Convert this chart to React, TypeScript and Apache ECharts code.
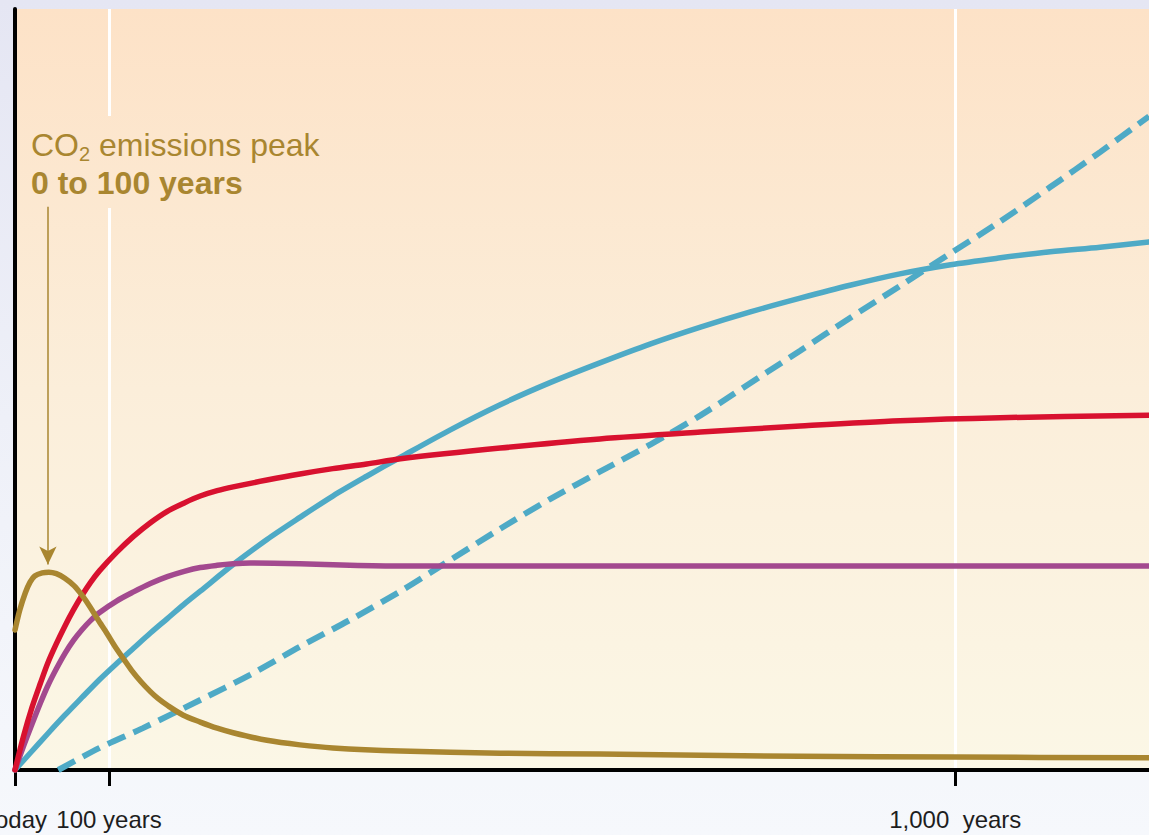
import { useEffect, useRef } from 'react';
import * as echarts from 'echarts';

// x axis (years from today) and its tick labels
const xMax = 1206;
const tickValues = [0, 100, 1000];
const tickLabels = ['Today', '100 years', '1,000  years'];

// CO2 emissions (peak 0 to 100 years)
const emissionsYears = [0, 5, 11, 16, 21, 29, 36, 44, 53, 63, 71, 80, 88, 98, 106, 116, 124, 134, 144, 152, 162, 179, 197, 215, 232, 268, 303, 338, 410, 516, 622, 835, 1000, 1206];
const emissionsValues = [18.4, 21.0, 23.3, 24.7, 25.5, 25.9, 26.0, 25.8, 25.2, 24.2, 23.0, 21.4, 19.8, 17.9, 16.3, 14.5, 13.1, 11.6, 10.3, 9.4, 8.5, 7.2, 6.3, 5.5, 4.9, 3.9, 3.3, 2.9, 2.5, 2.2, 2.1, 1.8, 1.7, 1.6];

// red curve
const redYears = [0, 9, 18, 27, 35, 44, 53, 62, 71, 80, 90, 108, 126, 144, 162, 180, 197, 215, 232, 268, 303, 338, 374, 410, 516, 622, 729, 835, 941, 1048, 1206];
const redValues = [0, 4.4, 8.2, 11.4, 14.1, 16.6, 18.9, 21.0, 22.9, 24.6, 26.2, 28.6, 30.7, 32.5, 34.0, 35.1, 36.0, 36.7, 37.2, 38.1, 38.9, 39.6, 40.2, 40.9, 42.3, 43.5, 44.4, 45.2, 45.9, 46.3, 46.6];

// purple curve
const purpleYears = [0, 9, 18, 27, 35, 44, 53, 62, 71, 80, 90, 108, 126, 144, 162, 180, 197, 215, 232, 250, 303, 356, 410, 622, 1206];
const purpleValues = [0, 3.1, 6.0, 8.8, 11.1, 13.3, 15.3, 17.0, 18.4, 19.6, 20.7, 22.2, 23.4, 24.5, 25.4, 26.1, 26.6, 26.9, 27.1, 27.2, 27.1, 26.9, 26.8, 26.8, 26.8];

// blue solid curve
const blueYears = [0, 16, 35, 53, 71, 90, 109, 126, 144, 162, 179, 197, 232, 268, 303, 338, 374, 410, 463, 516, 569, 622, 676, 729, 782, 835, 888, 941, 995, 1048, 1101, 1154, 1206];
const blueValues = [0, 2.2, 4.8, 7.2, 9.5, 11.9, 14.1, 16.0, 18.0, 19.9, 21.7, 23.5, 27.0, 30.3, 33.2, 36.0, 38.6, 41.1, 44.7, 48.0, 50.9, 53.5, 56.0, 58.2, 60.2, 62.0, 63.7, 65.2, 66.4, 67.3, 68.1, 68.7, 69.4];

// blue dashed curve
const dashedYears = [46, 90, 136, 197, 250, 303, 356, 410, 463, 516, 569, 622, 676, 729, 800, 835, 888, 941, 995, 1048, 1101, 1154, 1206];
const dashedValues = [0, 2.9, 5.5, 9.2, 12.5, 16.2, 19.7, 23.5, 27.6, 31.7, 35.6, 39.2, 42.8, 46.6, 52.3, 55.1, 59.4, 63.6, 67.9, 72.1, 76.6, 81.2, 85.9];

// annotation arrow (points at the emissions peak)
const arrowYear = 35;
const arrowFrom = 74.0;
const arrowTo = 27.0;

const GOLD = '#a98630';
const RED = '#d8112f';
const PURPLE = '#a3498f';
const BLUE = '#4eaac6';
const FONT = '"Liberation Sans", Arial, Helvetica, sans-serif';

const pairs = (xs: number[], ys: number[]) => xs.map((x, i) => [x, ys[i]]);

export default function App() {
  const ref = useRef<HTMLDivElement>(null);
  useEffect(() => {
    document.body.style.margin = '0';
    const chart = echarts.init(ref.current as HTMLDivElement, null, { renderer: 'svg' });
    const plotFill = () =>
      new echarts.graphic.LinearGradient(
        0, 9, 0, 770,
        [
          { offset: 0, color: '#fde2c7' },
          { offset: 0.5, color: '#fbeeda' },
          { offset: 1, color: '#fbf7e6' },
        ],
        true
      );
    const lineSeries = (name: string, xs: number[], ys: number[], color: string, extra: any = {}) => ({
      name,
      type: 'line',
      data: pairs(xs, ys),
      smooth: 0.3,
      showSymbol: false,
      symbol: 'none',
      lineStyle: { color, width: 5.5, cap: 'round', join: 'round' },
      ...extra,
    });
    const option: any = {
      animation: false,
      backgroundColor: new echarts.graphic.LinearGradient(0, 0, 0, 1, [
        { offset: 0, color: '#e5e6f3' },
        { offset: 0.5, color: '#eef0f8' },
        { offset: 1, color: '#f6f8fc' },
      ]),
      grid: {
        show: true,
        left: 15,
        top: 9,
        right: 0,
        bottom: 65,
        backgroundColor: plotFill(),
        borderWidth: 0,
        containLabel: false,
        outerBoundsMode: 'none',
      },
      xAxis: {
        type: 'value',
        min: 0,
        max: xMax,
        axisLine: { show: true, onZero: false, lineStyle: { color: '#000', width: 4 } },
        axisTick: { show: true, customValues: tickValues, length: 16, lineStyle: { color: '#000', width: 3 } },
        axisLabel: {
          customValues: tickValues,
          formatter: (v: number) => {
            const i = tickValues.indexOf(v);
            return i >= 0 ? tickLabels[i] : '';
          },
          margin: 37,
          fontSize: 24,
          color: '#1e1e1e',
          fontFamily: FONT,
          showMinLabel: true,
          showMaxLabel: true,
        },
        splitLine: { show: true, lineStyle: { color: '#ffffff', width: 3 } },
      },
      yAxis: {
        type: 'value',
        min: 0,
        max: 100,
        z: 3,
        axisLine: { show: true, lineStyle: { color: '#000', width: 4 } },
        axisTick: { show: false },
        axisLabel: { show: false },
        splitLine: { show: false },
      },
      series: [
        lineSeries('dashed', dashedYears, dashedValues, BLUE, {
          lineStyle: { color: BLUE, width: 6, type: [19, 9] },
        }),
        lineSeries('blue', blueYears, blueValues, BLUE),
        lineSeries('purple', purpleYears, purpleValues, PURPLE),
        lineSeries('red', redYears, redValues, RED),
        lineSeries('emissions', emissionsYears, emissionsValues, GOLD, {
          markLine: {
            silent: true,
            symbol: ['none', 'arrow'],
            symbolSize: [13, 18],
            label: { show: false },
            lineStyle: { color: GOLD, width: 1.5, type: 'solid' },
            data: [[{ coord: [arrowYear, arrowFrom] }, { coord: [arrowYear, arrowTo] }]],
          },
        }),
      ],
      graphic: [
        {
          type: 'rect',
          silent: true,
          z: 5,
          shape: { x: 100, y: 116, width: 18, height: 92 },
          style: { fill: plotFill() },
        },
        {
          type: 'text',
          silent: true,
          z: 10,
          x: 31,
          y: 126,
          style: {
            text: '{a|CO}{s|2}{a| emissions peak}\n{b|0 to 100 years}',
            fill: GOLD,
            rich: {
              a: { fontSize: 32, lineHeight: 38, fontFamily: FONT, fill: GOLD },
              s: { fontSize: 20, lineHeight: 20, verticalAlign: 'bottom', fontFamily: FONT, fill: GOLD },
              b: { fontSize: 32, lineHeight: 38, fontWeight: 'bold', fontFamily: FONT, fill: GOLD },
            },
          },
        },
      ],
    };
    chart.setOption(option);
    return () => chart.dispose();
  }, []);
  return <div ref={ref} style={{ position: 'absolute', left: 0, top: 0, width: 1149, height: 835 }} />;
}
